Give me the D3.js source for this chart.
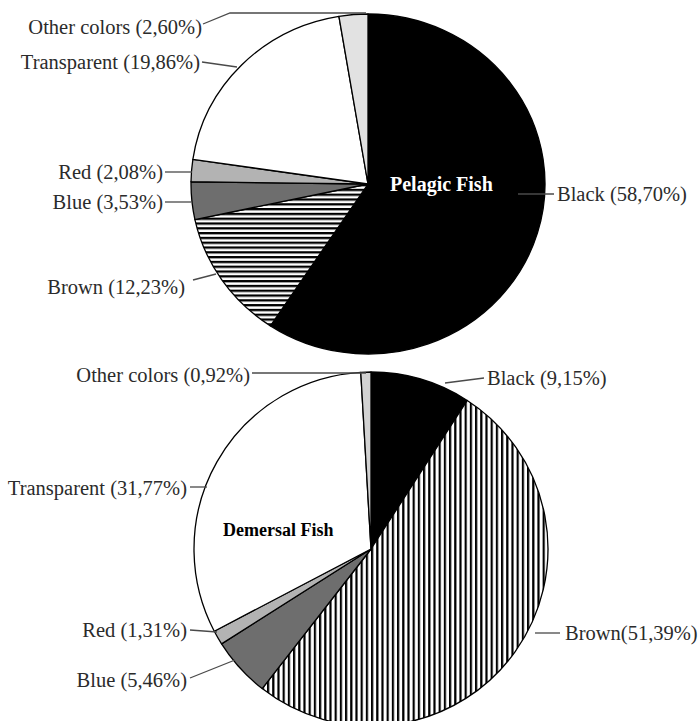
<!DOCTYPE html>
<html>
<head>
<meta charset="utf-8">
<script src="https://cdn.jsdelivr.net/npm/d3@7/dist/d3.min.js"></script>
<style>
  html, body { margin: 0; padding: 0; background: #ffffff; }
  svg { display: block; }
</style>
</head>
<body>
<svg id="chart" width="698" height="721"></svg>
<script>
// ---------------- data ----------------
const categories = ["Black", "Brown", "Blue", "Red", "Transparent", "Other colors"];
const pelagicValues = [58.70, 12.23, 3.53, 2.08, 19.86, 2.60];
const demersalValues = [9.15, 51.39, 5.46, 1.31, 31.77, 0.92];
const pelagicLabels = ["Black (58,70%)", "Brown (12,23%)", "Blue (3,53%)", "Red (2,08%)", "Transparent (19,86%)", "Other colors (2,60%)"];
const demersalLabels = ["Black (9,15%)", "Brown(51,39%)", "Blue (5,46%)", "Red (1,31%)", "Transparent (31,77%)", "Other colors (0,92%)"];
const pieTitles = ["Pelagic Fish", "Demersal Fish"];

// ---------------- styles / layout ----------------
const fills = {
  "Black": "#000000",
  "Blue": "#6e6e6e",
  "Red": "#b3b3b3",
  "Transparent": "#ffffff"
};
const otherFill = ["#e2e2e2", "#d2d2d2"];

const svg = d3.select("#chart");
const defs = svg.append("defs");

// horizontal stripes (pelagic brown)
const ph = defs.append("pattern").attr("id", "hstripes")
  .attr("patternUnits", "userSpaceOnUse").attr("width", 8).attr("height", 5);
ph.append("rect").attr("width", 8).attr("height", 5).attr("fill", "#ffffff");
ph.append("rect").attr("width", 8).attr("height", 2.4).attr("fill", "#000000");

// vertical stripes (demersal brown)
const pv = defs.append("pattern").attr("id", "vstripes")
  .attr("patternUnits", "userSpaceOnUse").attr("width", 5.2).attr("height", 8);
pv.append("rect").attr("width", 5.2).attr("height", 8).attr("fill", "#ffffff");
pv.append("rect").attr("width", 2.2).attr("height", 8).attr("fill", "#000000");

const pies = [
  { values: pelagicValues, labels: pelagicLabels, title: pieTitles[0],
    cx: 368, cy: 184, rx: 177, ry: 170, brown: "url(#hstripes)", other: otherFill[0],
    titlePos: [22, 7], titleSize: 20, titleColor: "#ffffff",
    // label layout relative to pie centre: text point, anchor, leader polyline
    layout: [
      { t: [189, 10], a: "start", l: [[150, 10], [186, 10]] },
      { t: [-183, 103], a: "end", l: [[-175, 96], [-152, 90]] },
      { t: [-205, 18], a: "end", l: [[-203, 18], [-177, 18]] },
      { t: [-205, -12], a: "end", l: [[-203, -12], [-176, -12]] },
      { t: [-168, -122], a: "end", l: [[-166, -122], [-131, -117]] },
      { t: [-166, -157], a: "end", l: [[-165, -160], [-138, -171], [-2, -171]] }
    ] },
  { values: demersalValues, labels: demersalLabels, title: pieTitles[1],
    cx: 371, cy: 549, rx: 177, ry: 177, brown: "url(#vstripes)", other: otherFill[1],
    titlePos: [-148, -13], titleSize: 18, titleColor: "#000000",
    layout: [
      { t: [116, -171], a: "start", l: [[74, -166], [113, -171]] },
      { t: [194, 84], a: "start", l: [[164, 84], [189, 84]] },
      { t: [-184, 131], a: "end", l: [[-181, 129], [-136, 111]] },
      { t: [-184, 81], a: "end", l: [[-181, 81], [-154, 83]] },
      { t: [-184, -61], a: "end", l: [[-181, -62], [-164, -62]] },
      { t: [-121, -174], a: "end", l: [[-119, -176], [-5, -176]] }
    ] }
];

const pieGen = d3.pie().sort(null).startAngle(0).endAngle(2 * Math.PI).value(d => d.v);

pies.forEach(p => {
  const data = categories.map((c, i) => ({ c, v: p.values[i], label: p.labels[i], lay: p.layout[i] }));
  const arcs = pieGen(data);
  const arc = d3.arc().innerRadius(0).outerRadius(p.rx);

  const g = svg.append("g").attr("transform", `translate(${p.cx},${p.cy})`);
  const pg = g.append("g").attr("transform", `scale(1, ${p.ry / p.rx})`);

  pg.selectAll("path.slice").data(arcs).enter().append("path")
    .attr("class", "slice")
    .attr("d", arc)
    .attr("fill", d => d.data.c === "Brown" ? p.brown : (d.data.c === "Other colors" ? p.other : fills[d.data.c]))
    .attr("stroke", "#000000")
    .attr("stroke-width", 1.3)
    .attr("stroke-linejoin", "round")
    .attr("vector-effect", "non-scaling-stroke");

  // leaders
  const line = d3.line();
  g.selectAll("path.leader").data(data).enter().append("path")
    .attr("class", "leader")
    .attr("d", d => line(d.lay.l))
    .attr("fill", "none")
    .attr("stroke", "#4a4a4a")
    .attr("stroke-width", 1.3);

  // labels
  g.selectAll("text.lbl").data(data).enter().append("text")
    .attr("class", "lbl")
    .attr("x", d => d.lay.t[0])
    .attr("y", d => d.lay.t[1])
    .attr("dy", "0.35em")
    .attr("text-anchor", d => d.lay.a)
    .attr("font-family", "'Liberation Serif', 'Times New Roman', serif")
    .attr("font-size", 20.5)
    .attr("fill", "#2b2b2b")
    .text(d => d.label);

  // title
  g.append("text")
    .attr("x", p.titlePos[0])
    .attr("y", p.titlePos[1])
    .attr("font-family", "'Liberation Serif', 'Times New Roman', serif")
    .attr("font-weight", "bold")
    .attr("font-size", p.titleSize)
    .attr("fill", p.titleColor)
    .text(p.title);
});
</script>
</body>
</html>
